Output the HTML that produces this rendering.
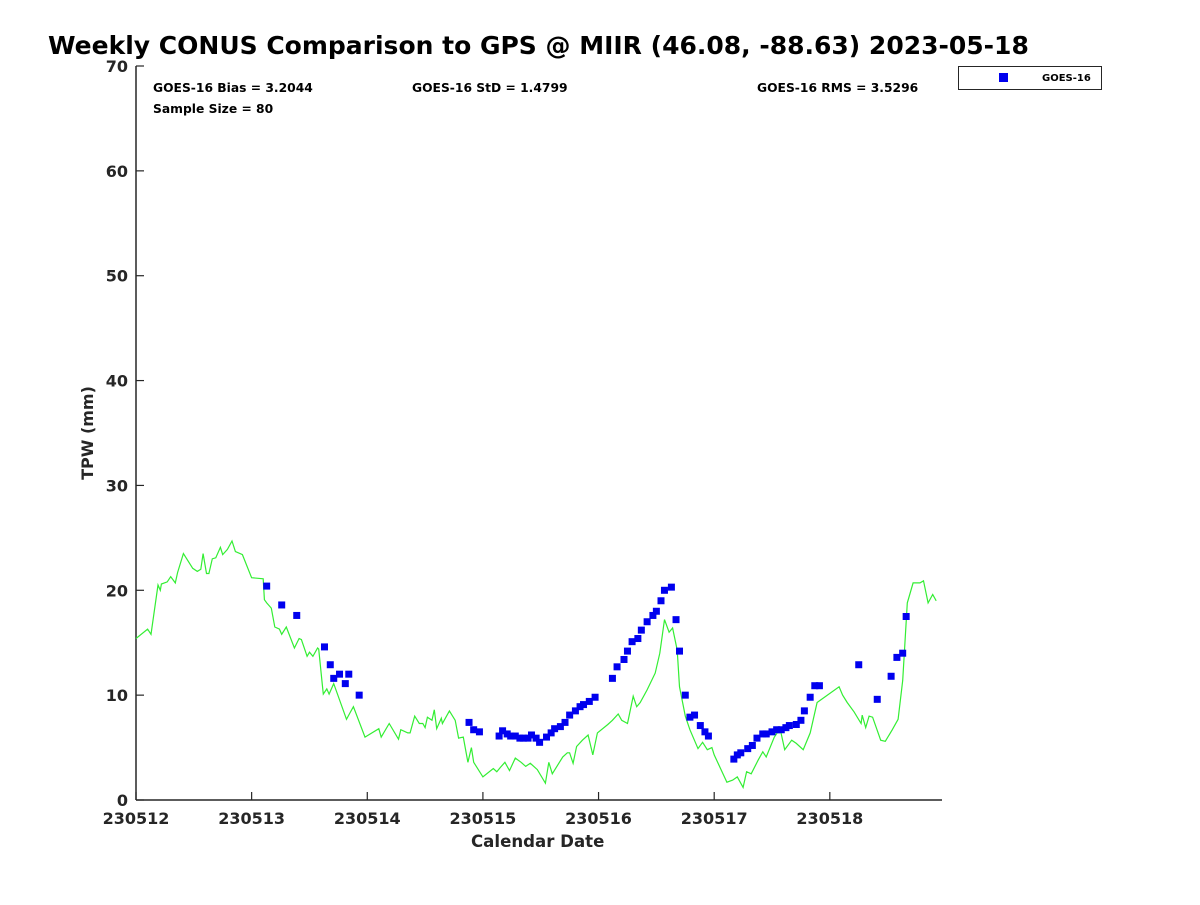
<!DOCTYPE html>
<html><head><meta charset="utf-8"><style>
body{margin:0;background:#fff;font-family:"Liberation Sans","DejaVu Sans",sans-serif}
svg text{font-family:"DejaVu Sans","Liberation Sans",sans-serif;font-weight:bold;fill:#262626}
</style></head><body>
<svg id="c" width="1200" height="900">
<text x="48" y="54" font-size="25" style="fill:#000">Weekly CONUS Comparison to GPS @ MIIR (46.08, -88.63) 2023-05-18</text>
<g id="ax"></g>
<text x="153" y="92" font-size="12.3" style="fill:#000">GOES-16 Bias = 3.2044</text>
<text x="412" y="92" font-size="12.3" style="fill:#000">GOES-16 StD = 1.4799</text>
<text x="757" y="92" font-size="12.3" style="fill:#000">GOES-16 RMS = 3.5296</text>
<text x="153" y="113" font-size="12.3" style="fill:#000">Sample Size = 80</text>
<g>
<rect x="958.5" y="66.5" width="143" height="23" fill="#fff" stroke="#262626" stroke-width="1"/>
<rect x="999" y="73" width="9" height="9" fill="#0000ee"/>
<text x="1042" y="81" font-size="10" style="fill:#000">GOES-16</text>
</g>
<text x="471" y="847" font-size="16.6">Calendar Date</text>
<text transform="translate(93,433) rotate(-90)" text-anchor="middle" font-size="16">TPW (mm)</text>
</svg>
<script>
const xTickLabels=["230512","230513","230514","230515","230516","230517","230518"];
const yTickValues=[0,10,20,30,40,50,60,70];
const gpsTime=[0,0.10,0.13,0.19,0.21,0.22,0.27,0.30,0.34,0.36,0.41,0.49,0.53,0.56,0.58,0.61,0.63,0.66,0.69,0.73,0.75,0.79,0.83,0.86,0.92,1.00,1.10,1.11,1.13,1.17,1.20,1.24,1.26,1.30,1.37,1.41,1.43,1.48,1.50,1.53,1.57,1.58,1.61,1.62,1.65,1.67,1.71,1.82,1.85,1.88,1.98,2.10,2.12,2.19,2.27,2.29,2.35,2.37,2.41,2.45,2.48,2.50,2.52,2.56,2.58,2.60,2.64,2.65,2.71,2.76,2.79,2.83,2.87,2.90,2.92,3.00,3.09,3.12,3.15,3.19,3.23,3.28,3.33,3.37,3.41,3.47,3.54,3.57,3.60,3.69,3.73,3.75,3.78,3.81,3.86,3.91,3.95,3.99,4.08,4.12,4.17,4.20,4.25,4.30,4.33,4.36,4.42,4.49,4.53,4.57,4.61,4.64,4.68,4.70,4.75,4.79,4.86,4.90,4.94,4.98,5.00,5.11,5.16,5.20,5.25,5.28,5.32,5.38,5.42,5.45,5.52,5.57,5.61,5.67,5.71,5.77,5.83,5.89,6.08,6.11,6.15,6.21,6.27,6.28,6.31,6.34,6.37,6.44,6.48,6.54,6.59,6.63,6.67,6.72,6.78,6.81,6.85,6.89,6.92,6.97];
const gpsTpw=[15.4,16.3,15.8,20.5,20.0,20.6,20.8,21.3,20.7,21.7,23.5,22.1,21.8,22.0,23.5,21.6,21.6,23.0,23.1,24.1,23.4,23.9,24.7,23.7,23.4,21.2,21.1,19.1,18.8,18.3,16.5,16.3,15.8,16.5,14.5,15.4,15.3,13.7,14.1,13.7,14.5,14.4,11.1,10.1,10.6,10.1,11.1,7.7,8.3,8.9,6.0,6.8,6.0,7.3,5.8,6.7,6.4,6.4,8.0,7.3,7.3,6.9,7.9,7.6,8.6,6.8,7.8,7.3,8.5,7.6,5.9,6.0,3.6,5.0,3.6,2.2,3.0,2.7,3.1,3.6,2.8,4.0,3.6,3.2,3.5,2.9,1.6,3.6,2.5,4.1,4.5,4.5,3.5,5.1,5.7,6.2,4.3,6.4,7.2,7.6,8.2,7.6,7.3,9.9,8.9,9.3,10.5,12.1,14.0,17.2,16.0,16.4,14.3,10.8,8.0,6.7,4.9,5.5,4.8,5.0,4.3,1.7,1.9,2.2,1.2,2.7,2.5,3.8,4.6,4.1,6.0,6.8,4.8,5.7,5.4,4.8,6.4,9.3,10.8,10.0,9.3,8.4,7.3,8.1,6.9,8.0,7.9,5.7,5.6,6.7,7.7,11.4,18.8,20.7,20.7,20.9,18.8,19.6,19.0];
const goesTime=[1.13,1.26,1.39,1.63,1.68,1.71,1.76,1.81,1.84,1.93,2.88,2.92,2.97,3.14,3.17,3.21,3.24,3.28,3.32,3.35,3.39,3.42,3.46,3.49,3.55,3.59,3.62,3.67,3.71,3.75,3.80,3.84,3.87,3.92,3.97,4.12,4.16,4.22,4.25,4.29,4.34,4.37,4.42,4.47,4.50,4.54,4.57,4.63,4.67,4.70,4.75,4.79,4.83,4.88,4.92,4.95,5.17,5.20,5.23,5.29,5.33,5.37,5.42,5.45,5.50,5.54,5.58,5.62,5.65,5.71,5.75,5.78,5.83,5.87,5.91,6.25,6.41,6.53,6.58,6.63,6.66];
const goesTpw=[20.4,18.6,17.6,14.6,12.9,11.6,12.0,11.1,12.0,10.0,7.4,6.7,6.5,6.1,6.6,6.3,6.1,6.1,5.9,5.9,5.9,6.2,5.9,5.5,6.0,6.4,6.8,7.0,7.4,8.1,8.5,8.9,9.1,9.4,9.8,11.6,12.7,13.4,14.2,15.1,15.4,16.2,17.0,17.6,18.0,19.0,20.0,20.3,17.2,14.2,10.0,7.9,8.1,7.1,6.5,6.1,3.9,4.3,4.5,4.9,5.2,5.9,6.3,6.3,6.5,6.7,6.7,6.9,7.1,7.2,7.6,8.5,9.8,10.9,10.9,12.9,9.6,11.8,13.6,14.0,17.5];
const L=136,R=942,T=66,B=800,xMax=6.97,yMax=70;
const xs=d=>L+d*(R-L)/xMax;
const ys=v=>B-v*(B-T)/yMax;
const NS="http://www.w3.org/2000/svg";
const ax=document.getElementById('ax');
function mk(t,a,p){const e=document.createElementNS(NS,t);for(const k in a)e.setAttribute(k,a[k]);(p||ax).appendChild(e);return e;}
const yl=mk('line',{x1:L,y1:T,x2:L,y2:B,stroke:'#262626','stroke-width':1.5});


const xl=mk('line',{x1:L,y1:B,x2:R,y2:B,stroke:'#262626','stroke-width':1.5});


yTickValues.forEach(v=>{
 const t=mk('line',{x1:L,y1:ys(v),x2:L+8,y2:ys(v),stroke:'#262626','stroke-width':1.2});
 
 
 const tx=mk('text',{x:L-8,y:ys(v)+6,'text-anchor':'end','font-size':16});
 tx.textContent=v;
 
 
});
xTickLabels.forEach((lab,i)=>{
 const t=mk('line',{x1:xs(i),y1:B,x2:xs(i),y2:B-8,stroke:'#262626','stroke-width':1.2});
 
 
 const tx=mk('text',{x:xs(i),y:824,'text-anchor':'middle','font-size':16});
 tx.textContent=lab;
 
 
});
const pts=gpsTime.map((t,i)=>xs(t).toFixed(1)+','+ys(gpsTpw[i]).toFixed(1)).join(' ');
const pl=mk('polyline',{points:pts,fill:'none',stroke:'#33ee33','stroke-width':1.2});


goesTime.forEach((t,i)=>{
 const r=mk('rect',{x:xs(t)-3.5,y:ys(goesTpw[i])-3.5,width:7,height:7,fill:'#0000ee'});
 
 
});
</script>
</body></html>
